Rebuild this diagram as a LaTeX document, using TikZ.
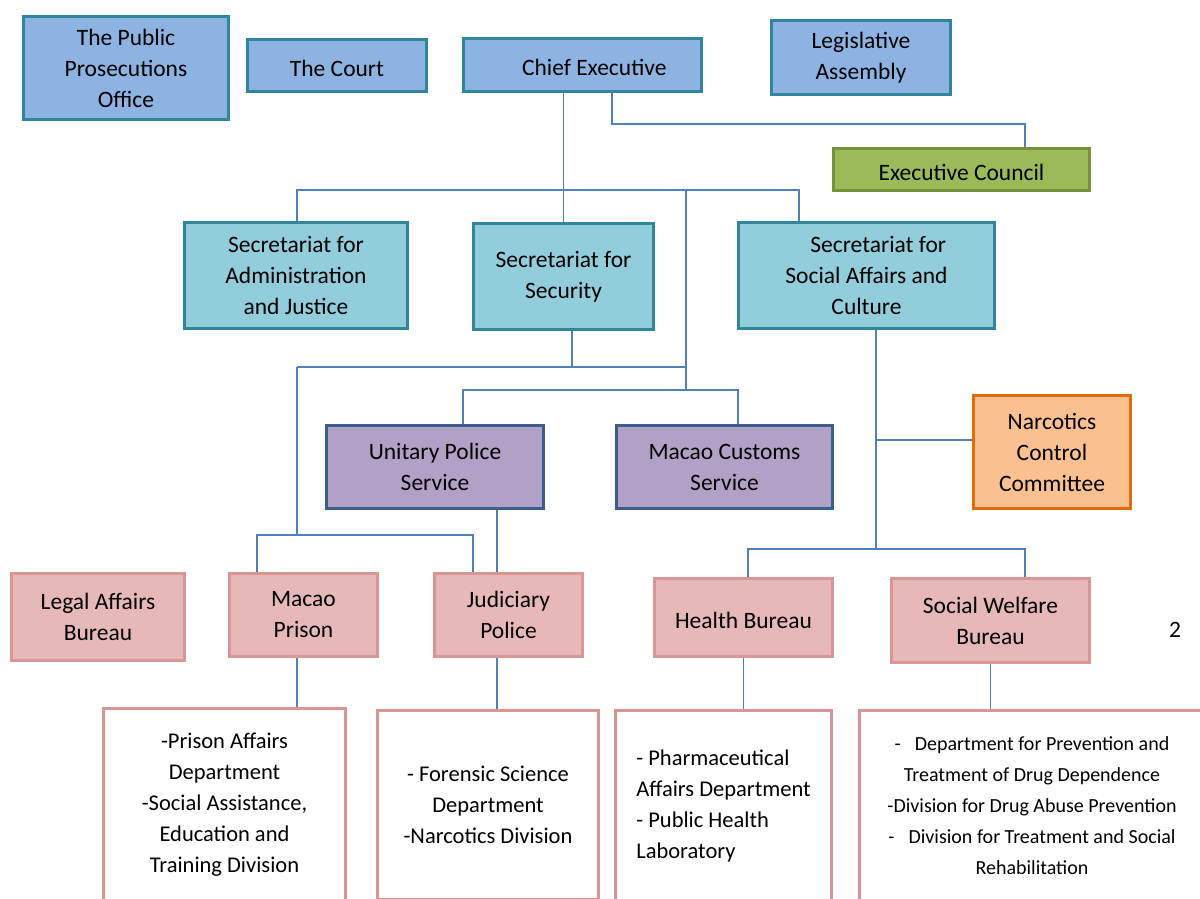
\documentclass[tikz,border=0pt]{standalone}
\usepackage{fontspec}
\setmainfont{Carlito}
\usepackage{xcolor}
\usepackage{tikz}

\definecolor{tealedge}{HTML}{31859C}
\definecolor{topblue}{HTML}{8DB3E2}
\definecolor{secblue}{HTML}{92CDDC}
\definecolor{greenfill}{HTML}{9BBB59}
\definecolor{greenedge}{HTML}{76923C}
\definecolor{purplefill}{HTML}{B2A1C7}
\definecolor{purpleedge}{HTML}{3B5E8C}
\definecolor{orangefill}{HTML}{FAC08F}
\definecolor{orangeedge}{HTML}{E36C09}
\definecolor{pinkfill}{HTML}{E6B9B8}
\definecolor{pinkedge}{HTML}{D99694}
\definecolor{linkblue}{HTML}{4F81BD}

\begin{document}
\begin{tikzpicture}[x=1pt,y=1pt,inner sep=2pt]
        \tikzset{office/.style={rectangle,draw=tealedge,line width=3pt,fill=topblue,align=center,font=\fontsize{23.5}{31}\selectfont,execute at begin node={\rule{0pt}{22pt}}}};
        \tikzset{secretariat/.style={office,fill=secblue}};
        \tikzset{council/.style={office,draw=greenedge,fill=greenfill}};
        \tikzset{service/.style={office,draw=purpleedge,fill=purplefill}};
        \tikzset{committee/.style={office,draw=orangeedge,fill=orangefill}};
        \tikzset{bureau/.style={office,draw=pinkedge,fill=pinkfill}};
        \tikzset{sublist/.style={bureau,fill=white,font=\fontsize{22.5}{31}\selectfont}};
        \tikzset{orgline/.style={draw=linkblue,line width=1.6pt}};

        \useasboundingbox (0,0) rectangle (1200,-898);
        \clip (0,0) rectangle (1200,-898);

        % top row
        \node [office,minimum width=205pt,minimum height=103pt] (prosecution) at (126,-68) {The Public\\Prosecutions\\Office};
        \node [office,minimum width=179pt,minimum height=52pt] (court) at (337,-65.5) {The Court};
        \node [office,minimum width=238pt,minimum height=53pt] (chief) at (582.5,-65) {\hspace*{1em}Chief Executive};
        \node [office,minimum width=179pt,minimum height=74pt] (assembly) at (861,-57.5) {Legislative\\Assembly};
        \node [council,minimum width=256pt,minimum height=42pt] (excouncil) at (961.5,-169.5) {Executive Council};

        % secretariats
        \node [secretariat,minimum width=223pt,minimum height=106pt] (admin) at (296,-275.5) {Secretariat for\\Administration\\and Justice};
        \node [secretariat,minimum width=180pt,minimum height=106pt] (security) at (563.5,-276.5) {Secretariat for\\Security};
        \node [secretariat,minimum width=256pt,minimum height=106pt] (social) at (866.5,-275.5) {\hspace*{1em}Secretariat for\\Social Affairs and\\Culture};

        % services
        \node [service,minimum width=217pt,minimum height=83pt] (unitary) at (435,-467) {Unitary Police\\Service};
        \node [service,minimum width=216pt,minimum height=83pt] (customs) at (724.5,-467) {Macao Customs\\Service};
        \node [committee,minimum width=157pt,minimum height=113pt] (narcotics) at (1052,-452) {Narcotics\\Control\\Committee};

        % bureaus
        \node [bureau,minimum width=173pt,minimum height=87pt] (legal) at (98,-617) {Legal Affairs\\Bureau};
        \node [bureau,minimum width=148pt,minimum height=83pt] (prison) at (303.5,-615) {Macao\\Prison};
        \node [bureau,minimum width=148pt,minimum height=83pt] (judiciary) at (508.5,-615) {Judiciary\\Police};
        \node [bureau,minimum width=178pt,minimum height=78pt] (health) at (743.5,-617.5) {Health Bureau};
        \node [bureau,minimum width=198pt,minimum height=84pt] (welfare) at (990.5,-620.5) {Social Welfare\\Bureau};
        \node [font=\fontsize{23.5}{31}\selectfont] (pagenum) at (1175,-630) {2};

        % departments
        \node [sublist,minimum width=242pt,minimum height=192pt] (prisonlist) at (224.5,-804.5) {-Prison Affairs\\Department\\-Social Assistance,\\Education and\\Training Division};
        \node [sublist,minimum width=221pt,minimum height=189pt] (judiciarylist) at (488,-805) {- Forensic Science\\Department\\-Narcotics Division};
        \node [sublist,align=left,minimum width=216pt,minimum height=190pt] (healthlist) at (723.5,-805.5) {- Pharmaceutical\\Affairs Department\\- Public Health\\Laboratory};
        \node [sublist,font=\fontsize{20}{31}\selectfont,minimum width=345pt,minimum height=190pt] (welfarelist) at (1032,-805.5) {-\hspace{0.7em}Department for Prevention and\\Treatment of Drug Dependence\\-Division for Drug Abuse Prevention\\-\hspace{0.7em}Division for Treatment and Social\\Rehabilitation};

        % junctions
        \coordinate (ceknee) at (612,-124);
        \coordinate (councilknee) at (1025,-124);
        \coordinate (secbarL) at (297,-190);
        \coordinate (secbarR) at (799,-190);
        \coordinate (spine) at (686,-190);
        \coordinate (servbarL) at (463,-390);
        \coordinate (servbarR) at (738,-390);
        \coordinate (spinefoot) at (686,-390);
        \coordinate (secknee) at (572,-367);
        \coordinate (justbarL) at (297,-367);
        \coordinate (justbarR) at (687,-367);
        \coordinate (prisonknee) at (297,-535);
        \coordinate (prisonbarL) at (257,-535);
        \coordinate (prisonbarR) at (473,-535);
        \coordinate (jpolice) at (497,0);
        \coordinate (socknee) at (876,-549);
        \coordinate (healthbarL) at (748,-549);
        \coordinate (healthbarR) at (1025,-549);
        \coordinate (narcknee) at (876,-440);

        \draw [orgline] (chief.south -| security.north) -- (security.north);
        \draw [orgline] (chief.south -| ceknee) -- (ceknee) -- (councilknee) -- (councilknee |- excouncil.north);
        \draw [orgline] (secbarL |- admin.north) -- (secbarL) -- (secbarR) -- (secbarR |- social.north);
        \draw [orgline] (spine) -- (spinefoot);
        \draw [orgline] (servbarL |- unitary.north) -- (servbarL) -- (servbarR) -- (servbarR |- customs.north);
        \draw [orgline] (security.south -| secknee) -- (secknee);
        \draw [orgline] (justbarL) -- (justbarR);
        \draw [orgline] (justbarL) -- (prisonknee);
        \draw [orgline] (prisonbarL |- prison.north) -- (prisonbarL) -- (prisonbarR) -- (prisonbarR |- judiciary.north);
        \draw [orgline] (unitary.south -| jpolice) -- (judiciary.north -| jpolice);
        \draw [orgline] (social.south -| socknee) -- (socknee);
        \draw [orgline] (healthbarL |- health.north) -- (healthbarL) -- (healthbarR) -- (healthbarR |- welfare.north);
        \draw [orgline] (narcknee) -- (narcknee -| narcotics.west);
        \draw [orgline] (prison.south -| prisonknee) -- (prisonlist.north -| prisonknee);
        \draw [orgline] (judiciary.south -| jpolice) -- (judiciarylist.north -| jpolice);
        \draw [orgline] (health.south) -- (health.south |- healthlist.north);
        \draw [orgline] (welfare.south) -- (welfare.south |- welfarelist.north);
    \end{tikzpicture}
\end{document}
